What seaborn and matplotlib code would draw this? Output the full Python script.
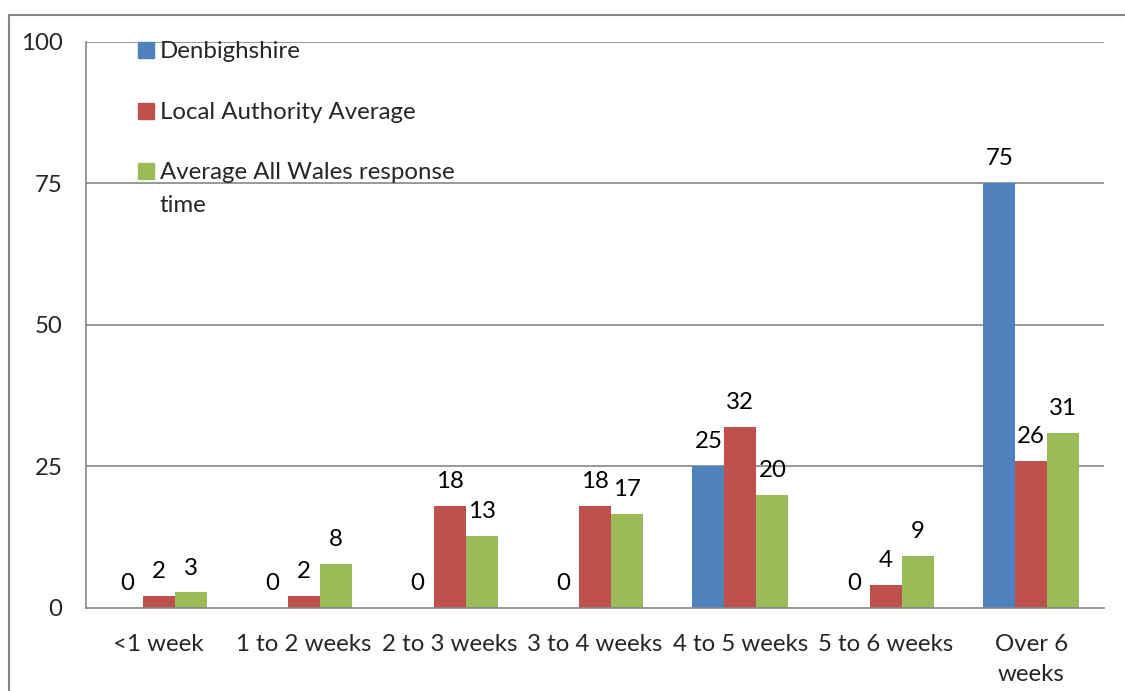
"""
Response times chart: Denbighshire vs averages, grouped bars.
"""

import matplotlib
matplotlib.use("Agg")
import matplotlib.pyplot as plt
from matplotlib.patches import Rectangle
from matplotlib.ticker import FixedLocator
import seaborn as sns
import pandas as pd

# Data
categories = ["<1 week", "1 to 2 weeks", "2 to 3 weeks", "3 to 4 weeks",
              "4 to 5 weeks", "5 to 6 weeks", "Over 6\nweeks"]
series_names = ["Denbighshire", "Local Authority Average",
                "Average All Wales response time"]
legend_labels = ["Denbighshire", "Local Authority Average",
                 "Average All Wales response\ntime"]
denbighshire = [0, 0, 0, 0, 25, 0, 75]
la_average = [2, 2, 18, 18, 32, 4, 26]
all_wales = [2.7, 7.8, 12.6, 16.6, 20.0, 9.1, 30.8]
y_ticks = [0, 25, 50, 75, 100]

colors = ["#4F81BD", "#C0504D", "#9BBB59"]
grid_color = "#868686"
FS = 17.3

df = pd.DataFrame({
    "category": categories * 3,
    "series": [s for s in series_names for _ in categories],
    "value": denbighshire + la_average + all_wales,
})

sns.set_style("white")
plt.rcParams["font.family"] = ["Lato", "DejaVu Sans"]
plt.rcParams["font.size"] = FS

fig = plt.figure(figsize=(11.25, 6.91), dpi=100)
ax = fig.add_axes([86 / 1125, 1 - 607.7 / 691, 1018 / 1125, (607.7 - 41.7) / 691])

sns.barplot(data=df, x="category", y="value", hue="series", order=categories,
            hue_order=series_names, palette=colors, width=0.66, gap=0,
            saturation=1, linewidth=0, legend=False, ax=ax)

for cont in ax.containers:
    ax.bar_label(cont, fmt="{:.0f}", padding=10, fontsize=FS, color="black")

ax.set_xlim(-0.5, len(categories) - 0.5)
ax.set_ylim(0, 100)
ax.set_yticks(y_ticks)
ax.set_xlabel("")
ax.set_ylabel("")

# gridlines
for y in y_ticks[1:]:
    ax.axhline(y, color=grid_color, linewidth=1.2, zorder=0)

for side in ["top", "right"]:
    ax.spines[side].set_visible(False)
for side in ["left", "bottom"]:
    ax.spines[side].set_color(grid_color)
    ax.spines[side].set_linewidth(1.2)

ax.tick_params(axis="y", length=5, width=1.2, color=grid_color, pad=12,
               labelsize=FS)
ax.tick_params(axis="x", which="major", length=0, pad=19, labelsize=FS)
ax.xaxis.set_minor_locator(FixedLocator([i - 0.5 for i in range(len(categories) + 1)]))
ax.tick_params(axis="x", which="minor", length=5, width=1.2, color=grid_color)
for lbl in ax.get_xticklabels():
    lbl.set_linespacing(1.5)

# legend drawn by hand so the wrapped label lines up like the original
leg_baseline = [58, 119, 179]
line_step = 33
for name, col, yy in zip(legend_labels, colors, leg_baseline):
    fig.patches.append(Rectangle((138 / 1125, 1 - yy / 691), 16 / 1125, 16 / 691,
                                 transform=fig.transFigure, color=col, figure=fig))
    for k, part in enumerate(name.split("\n")):
        fig.text(160 / 1125, 1 - (yy + k * line_step) / 691, part, fontsize=FS,
                 va="baseline", ha="left")

# outer border of the chart area
fig.patches.append(Rectangle((9 / 1125, -0.1), 1.2, 1 - 15 / 691 + 0.1,
                             transform=fig.transFigure, fill=False,
                             edgecolor=grid_color, linewidth=1.5, figure=fig))

fig.savefig("out.png", dpi=100)
